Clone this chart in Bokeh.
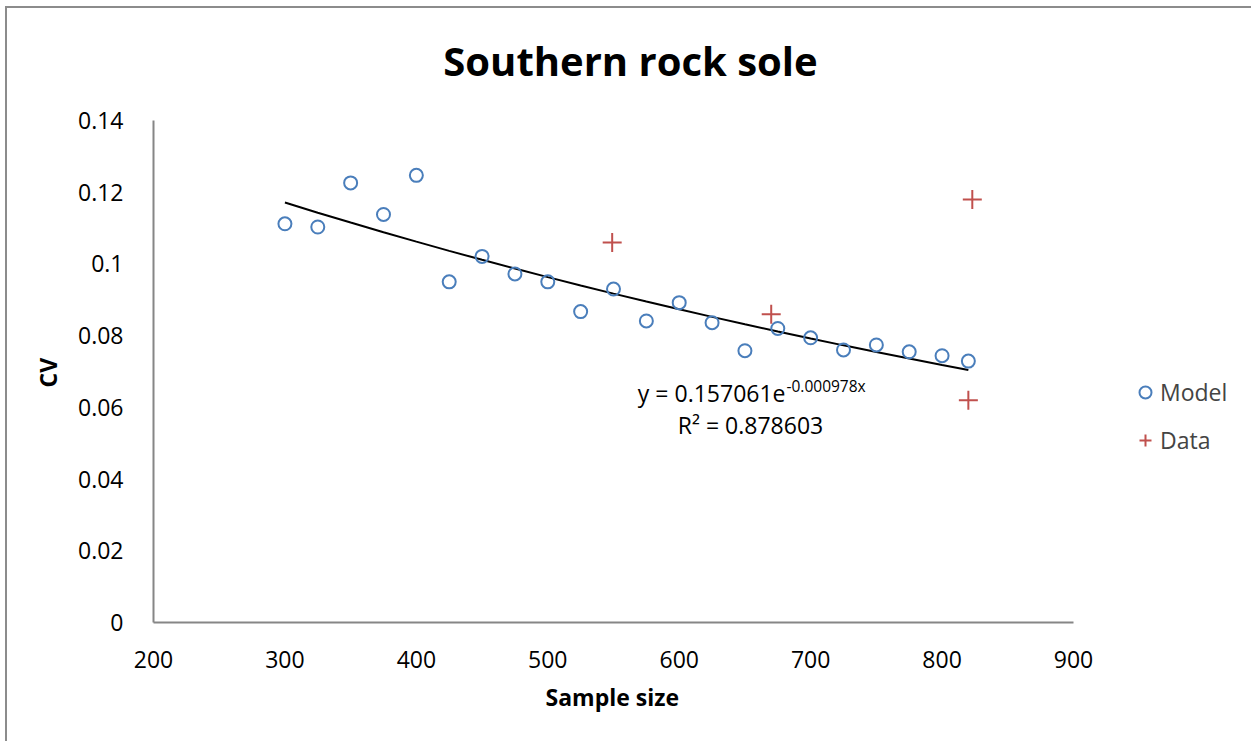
from bokeh.plotting import figure
from bokeh.models import (Range1d, Legend, LegendItem, Label, CustomJSTickFormatter,
                          FixedTicker, Title)
from bokeh.embed import file_html
from bokeh.resources import INLINE
import numpy as np

# ---- data ----
model_x = [300, 325, 350, 375, 400, 425, 450, 475, 500, 525, 550, 575, 600, 625,
           650, 675, 700, 725, 750, 775, 800, 820]
model_y = [0.1112, 0.1103, 0.1226, 0.1138, 0.1247, 0.0950, 0.1021, 0.0972, 0.0950,
           0.0867, 0.0930, 0.0841, 0.0892, 0.0836, 0.0758, 0.0820, 0.0794, 0.0760,
           0.0774, 0.0755, 0.0744, 0.0729]
data_x = [549, 670, 820, 823]
data_y = [0.1060, 0.0860, 0.0620, 0.1180]
trend_a = 0.157061
trend_b = -0.000978
x_ticks = [200, 300, 400, 500, 600, 700, 800, 900]
y_ticks = [0, 0.02, 0.04, 0.06, 0.08, 0.1, 0.12, 0.14]
x_min, x_max = 200, 900
y_min, y_max = 0, 0.14

trend_x = np.array(model_x, dtype=float)
trend_y = trend_a * np.exp(trend_b * trend_x)

FONT = "Open Sans"
TICK_PX = "23px"

# axes occupy 920 x 502 px; the frame continues to the right (legend) and
# upward (title) without axis lines there
axis_w, axis_h = 920, 502
extra_r, extra_t = 180, 112
x_end = x_max + (x_max - x_min) * extra_r / axis_w
y_end = y_max + (y_max - y_min) * extra_t / axis_h

p = figure(width=1246, height=735, output_backend="svg", toolbar_location=None,
           x_range=Range1d(x_min, x_end), y_range=Range1d(y_min, y_end),
           min_border_left=146, min_border_right=0, min_border_top=0,
           min_border_bottom=121)
p.styles = {"border-top": "2px solid #8c8c8c", "border-left": "2px solid #8c8c8c",
            "margin-left": "5px", "margin-top": "6px"}

p.grid.visible = False
p.outline_line_color = None

for ax in (p.xaxis[0], p.yaxis[0]):
    ax.axis_line_color = "#868686"
    ax.axis_line_width = 2
    ax.major_tick_line_color = None
    ax.minor_tick_line_color = None
    ax.major_label_text_font = FONT
    ax.major_label_text_font_size = TICK_PX
    ax.major_label_text_color = "#000000"

p.xaxis.bounds = (x_min, x_max)
p.yaxis.bounds = (y_min, y_max)
p.xaxis.ticker = FixedTicker(ticks=x_ticks)
p.yaxis.ticker = FixedTicker(ticks=y_ticks)
p.yaxis.formatter = CustomJSTickFormatter(code="return String(parseFloat(tick.toFixed(4)));")
p.xaxis.major_label_standoff = 22
p.yaxis.major_label_standoff = 24

# axis titles, positioned along the drawn axis extent
y_title = Title(text="CV", align="left", offset=235, standoff=24, text_font=FONT,
                text_font_size=TICK_PX, text_font_style="bold", text_color="#000000")
x_title = Title(text="Sample size", align="left", offset=392, standoff=16, text_font=FONT,
                text_font_size=TICK_PX, text_font_style="bold", text_color="#000000")
p.add_layout(y_title, "left")
p.add_layout(x_title, "below")

trend = p.line(trend_x, trend_y, line_color="black", line_width=2)
r_model = p.scatter(model_x, model_y, marker="circle", size=13, fill_color=None,
                    line_color="#4A7EBB", line_width=2)
r_data = p.scatter(data_x, data_y, marker="cross", size=19,
                   line_color="#C0504D", line_width=2)

legend = Legend(items=[LegendItem(label="Model", renderers=[r_model]),
                       LegendItem(label="Data", renderers=[r_data])],
                location=(977, 166), border_line_color=None, background_fill_alpha=0,
                label_text_font=FONT, label_text_font_size=TICK_PX,
                glyph_width=30, glyph_height=32, label_standoff=0, spacing=16,
                padding=0, margin=0)
p.add_layout(legend, "center")

title = Label(x=477, y=562, x_units="screen", y_units="screen", text="Southern rock sole",
              text_align="center", text_baseline="middle", text_font=FONT,
              text_font_size="40px", text_font_style="bold", text_color="#000000")
lab1 = Label(x=632, y=230, x_units="screen", y_units="screen", text="y = 0.157061e",
             text_align="right", text_baseline="middle", text_font=FONT,
             text_font_size=TICK_PX, text_color="#000000")
lab2 = Label(x=633, y=237, x_units="screen", y_units="screen", text="-0.000978x",
             text_align="left", text_baseline="middle", text_font=FONT,
             text_font_size="15.5px", text_color="#000000")
lab3 = Label(x=597, y=198, x_units="screen", y_units="screen", text="R² = 0.878603",
             text_align="center", text_baseline="middle", text_font=FONT,
             text_font_size=TICK_PX, text_color="#000000")
for l in (title, lab1, lab2, lab3):
    p.add_layout(l)

open("out.html", "w").write(file_html(p, INLINE))
